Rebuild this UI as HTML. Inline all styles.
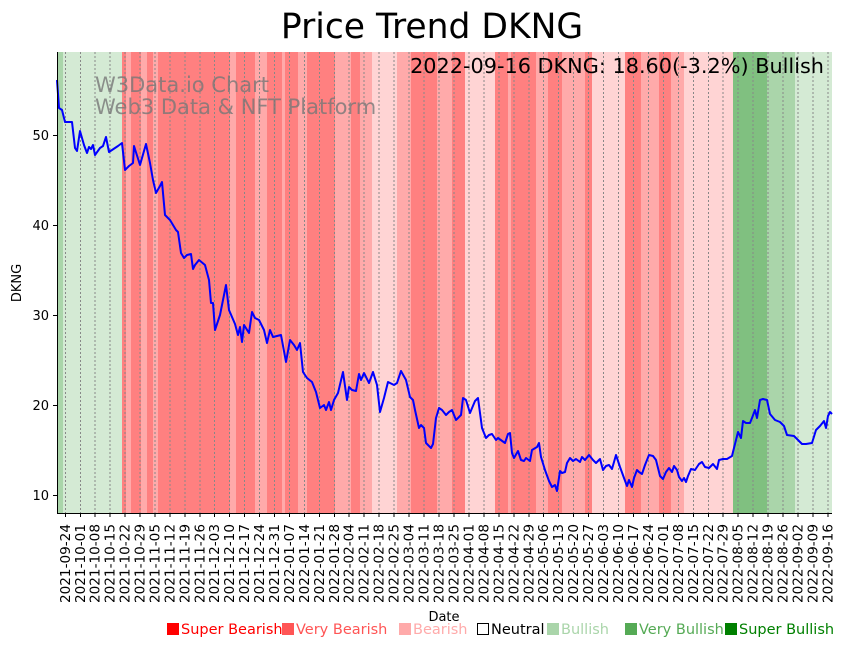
<!DOCTYPE html>
<html><head><meta charset="utf-8"><style>
body{margin:0;background:#fff;}
svg{display:block;font-family:"DejaVu Sans","Liberation Sans",sans-serif;}
</style></head><body>
<svg width="848" height="646" viewBox="0 0 848 646" xmlns="http://www.w3.org/2000/svg">
<rect width="848" height="646" fill="#fff"/>
<text x="432" y="38" font-size="34.5" text-anchor="middle" fill="#000">Price Trend DKNG</text>
<g shape-rendering="crispEdges">
<rect x="57" y="52" width="6" height="461" fill="#aad5aa"/>
<rect x="63" y="52" width="59" height="461" fill="#d4ead4"/>
<rect x="122" y="52" width="4" height="461" fill="#ff8080"/>
<rect x="126" y="52" width="5" height="461" fill="#ffaaaa"/>
<rect x="131" y="52" width="10" height="461" fill="#ff8080"/>
<rect x="141" y="52" width="6" height="461" fill="#ffaaaa"/>
<rect x="147" y="52" width="6" height="461" fill="#ff8080"/>
<rect x="153" y="52" width="5" height="461" fill="#ffaaaa"/>
<rect x="158" y="52" width="72" height="461" fill="#ff8080"/>
<rect x="230" y="52" width="6" height="461" fill="#ffaaaa"/>
<rect x="236" y="52" width="19" height="461" fill="#ff8080"/>
<rect x="255" y="52" width="12" height="461" fill="#ffaaaa"/>
<rect x="267" y="52" width="15" height="461" fill="#ff8080"/>
<rect x="282" y="52" width="3" height="461" fill="#ffaaaa"/>
<rect x="285" y="52" width="13" height="461" fill="#ff8080"/>
<rect x="298" y="52" width="9" height="461" fill="#ffaaaa"/>
<rect x="307" y="52" width="28" height="461" fill="#ff8080"/>
<rect x="335" y="52" width="16" height="461" fill="#ffaaaa"/>
<rect x="351" y="52" width="9" height="461" fill="#ff8080"/>
<rect x="360" y="52" width="12" height="461" fill="#ffaaaa"/>
<rect x="372" y="52" width="25" height="461" fill="#ffd4d4"/>
<rect x="397" y="52" width="14" height="461" fill="#ffaaaa"/>
<rect x="411" y="52" width="26" height="461" fill="#ff8080"/>
<rect x="437" y="52" width="15" height="461" fill="#ffaaaa"/>
<rect x="452" y="52" width="13" height="461" fill="#ff8080"/>
<rect x="465" y="52" width="30" height="461" fill="#ffd4d4"/>
<rect x="495" y="52" width="13" height="461" fill="#ff8080"/>
<rect x="508" y="52" width="3" height="461" fill="#ffaaaa"/>
<rect x="511" y="52" width="25" height="461" fill="#ff8080"/>
<rect x="536" y="52" width="12" height="461" fill="#ffaaaa"/>
<rect x="548" y="52" width="14" height="461" fill="#ff8080"/>
<rect x="562" y="52" width="23" height="461" fill="#ffaaaa"/>
<rect x="585" y="52" width="7" height="461" fill="#ff8080"/>
<rect x="592" y="52" width="33" height="461" fill="#ffd4d4"/>
<rect x="625" y="52" width="16" height="461" fill="#ff8080"/>
<rect x="641" y="52" width="18" height="461" fill="#ffaaaa"/>
<rect x="659" y="52" width="12" height="461" fill="#ff8080"/>
<rect x="671" y="52" width="13" height="461" fill="#ffaaaa"/>
<rect x="684" y="52" width="49" height="461" fill="#ffd4d4"/>
<rect x="733" y="52" width="34" height="461" fill="#80c080"/>
<rect x="767" y="52" width="28" height="461" fill="#aad5aa"/>
<rect x="795" y="52" width="37" height="461" fill="#d4ead4"/>
</g>
<g stroke="#888" stroke-width="1" stroke-dasharray="2,2">
<path d="M65.5 52V513M80.5 52V513M95 52V513M110 52V513M125 52V513M140 52V513M155 52V513M170 52V513M185 52V513M200 52V513M214.5 52V513M229.5 52V513M244.5 52V513M259.5 52V513M274.5 52V513M289.5 52V513M304.5 52V513M319.5 52V513M334.5 52V513M349 52V513M364 52V513M379 52V513M394 52V513M409 52V513M424 52V513M439 52V513M454 52V513M469 52V513M484 52V513M499 52V513M514 52V513M529 52V513M543.5 52V513M558.5 52V513M573.5 52V513M588.5 52V513M603.5 52V513M618.5 52V513M633.5 52V513M648.5 52V513M663.5 52V513M678.5 52V513M693.5 52V513M708.5 52V513M723 52V513M738 52V513M753 52V513M768 52V513M783 52V513M798 52V513M813 52V513M828 52V513"/>
</g>
<text x="95" y="92" font-size="21" fill="#777" fill-opacity="0.8">W3Data.io Chart</text>
<text x="95" y="114" font-size="21" fill="#777" fill-opacity="0.8">Web3 Data &amp; NFT Platform</text>
<text x="824" y="73" font-size="20.8" text-anchor="end" fill="#000">2022-09-16 DKNG: 18.60(-3.2%) Bullish</text>
<polyline fill="none" stroke="#0000ff" stroke-width="2" stroke-linejoin="round" points="57,80 59,108 62,110 65,122 72,122 75,148 77,151 80,131 84,145 87,153 89,147 91,149 93,145 95,155 100,148 103,146 106,137 109,152 112,150 118,146 122,143 125,170 129,166 133,163 134,146 140,165 146,144 150,163 153,180 156,193 160,186 162,182 165,215 170,220 176,230 178,232 181,253 184,258 187,255 191,254 193,269 195,265 199,260 205,265 209,280 211,303 213,303 215,330 220,315 226,285 229,310 235,324 238,335 240,327 242,342 244,325 249,333 252,312 255,318 259,320 264,330 267,343 270,330 273,337 281,335 286,362 290,340 294,345 297,350 300,343 303,372 307,378 312,382 316,392 320,408 324,405 326,410 329,402 331,410 334,400 338,393 343,372 347,400 349,387 352,390 356,391 359,374 361,380 364,373 369,383 373,372 377,385 380,412 384,398 388,382 394,385 397,383 401,371 406,380 410,397 413,400 415,410 419,428 421,425 424,428 426,443 431,448 433,444 436,418 439,408 442,410 446,415 449,412 452,410 456,420 461,415 463,398 466,400 470,413 475,401 478,398 482,428 486,438 489,435 492,434 496,440 498,438 505,443 508,434 510,433 512,453 514,458 518,451 521,460 524,461 526,458 530,461 532,450 537,447 539,443 541,457 545,470 549,481 552,487 555,485 557,491 560,471 562,473 565,472 567,463 570,458 573,461 576,459 580,462 582,457 585,460 589,455 593,460 596,463 600,459 603,470 606,466 609,465 612,469 616,455 620,467 624,478 627,486 629,480 632,487 634,478 637,470 639,472 642,474 645,465 649,455 653,456 656,460 660,476 663,479 666,472 669,468 672,472 674,466 677,470 679,477 682,481 684,478 686,482 688,476 691,469 695,470 699,464 702,462 705,467 709,468 713,464 717,469 719,460 723,459 727,459 732,456 735,444 738,432 741,438 743,421 746,423 750,423 752,418 755,410 757,418 760,400 763,399 767,400 770,414 775,420 780,422 784,426 787,435 794,436 798,440 802,444 806,444 812,443 816,430 820,426 824,421 826,428 828,416 830,412 832,414"/>
<path d="M57.5 52V513.5H832" fill="none" stroke="#000" stroke-width="1"/>
<g stroke="#000" stroke-width="1">
<path d="M53 495.5H57M53 405.5H57M53 315.5H57M53 225.5H57M53 135.5H57"/>
<path d="M65.5 513V517M80.5 513V517M95 513V517M110 513V517M125 513V517M140 513V517M155 513V517M170 513V517M185 513V517M200 513V517M214.5 513V517M229.5 513V517M244.5 513V517M259.5 513V517M274.5 513V517M289.5 513V517M304.5 513V517M319.5 513V517M334.5 513V517M349 513V517M364 513V517M379 513V517M394 513V517M409 513V517M424 513V517M439 513V517M454 513V517M469 513V517M484 513V517M499 513V517M514 513V517M529 513V517M543.5 513V517M558.5 513V517M573.5 513V517M588.5 513V517M603.5 513V517M618.5 513V517M633.5 513V517M648.5 513V517M663.5 513V517M678.5 513V517M693.5 513V517M708.5 513V517M723 513V517M738 513V517M753 513V517M768 513V517M783 513V517M798 513V517M813 513V517M828 513V517"/>
</g>
<g font-size="13" text-anchor="end" fill="#000">
<text x="49" y="500">10</text><text x="49" y="410">20</text><text x="49" y="320">30</text><text x="49" y="230">40</text><text x="49" y="140">50</text>
</g>
<text transform="translate(21,283) rotate(-90)" font-size="13" text-anchor="middle">DKNG</text>
<text x="444" y="621" font-size="13" text-anchor="middle">Date</text>
<g font-size="13.6" text-anchor="end" fill="#000">
<text transform="translate(70,524) rotate(-90)">2021-09-24</text>
<text transform="translate(85,524) rotate(-90)">2021-10-01</text>
<text transform="translate(99.5,524) rotate(-90)">2021-10-08</text>
<text transform="translate(114.5,524) rotate(-90)">2021-10-15</text>
<text transform="translate(129.5,524) rotate(-90)">2021-10-22</text>
<text transform="translate(144.5,524) rotate(-90)">2021-10-29</text>
<text transform="translate(159.5,524) rotate(-90)">2021-11-05</text>
<text transform="translate(174.5,524) rotate(-90)">2021-11-12</text>
<text transform="translate(189.5,524) rotate(-90)">2021-11-19</text>
<text transform="translate(204.5,524) rotate(-90)">2021-11-26</text>
<text transform="translate(219,524) rotate(-90)">2021-12-03</text>
<text transform="translate(234,524) rotate(-90)">2021-12-10</text>
<text transform="translate(249,524) rotate(-90)">2021-12-17</text>
<text transform="translate(264,524) rotate(-90)">2021-12-24</text>
<text transform="translate(279,524) rotate(-90)">2021-12-31</text>
<text transform="translate(294,524) rotate(-90)">2022-01-07</text>
<text transform="translate(309,524) rotate(-90)">2022-01-14</text>
<text transform="translate(324,524) rotate(-90)">2022-01-21</text>
<text transform="translate(339,524) rotate(-90)">2022-01-28</text>
<text transform="translate(353.5,524) rotate(-90)">2022-02-04</text>
<text transform="translate(368.5,524) rotate(-90)">2022-02-11</text>
<text transform="translate(383.5,524) rotate(-90)">2022-02-18</text>
<text transform="translate(398.5,524) rotate(-90)">2022-02-25</text>
<text transform="translate(413.5,524) rotate(-90)">2022-03-04</text>
<text transform="translate(428.5,524) rotate(-90)">2022-03-11</text>
<text transform="translate(443.5,524) rotate(-90)">2022-03-18</text>
<text transform="translate(458.5,524) rotate(-90)">2022-03-25</text>
<text transform="translate(473.5,524) rotate(-90)">2022-04-01</text>
<text transform="translate(488.5,524) rotate(-90)">2022-04-08</text>
<text transform="translate(503.5,524) rotate(-90)">2022-04-15</text>
<text transform="translate(518.5,524) rotate(-90)">2022-04-22</text>
<text transform="translate(533.5,524) rotate(-90)">2022-04-29</text>
<text transform="translate(548,524) rotate(-90)">2022-05-06</text>
<text transform="translate(563,524) rotate(-90)">2022-05-13</text>
<text transform="translate(578,524) rotate(-90)">2022-05-20</text>
<text transform="translate(593,524) rotate(-90)">2022-05-27</text>
<text transform="translate(608,524) rotate(-90)">2022-06-03</text>
<text transform="translate(623,524) rotate(-90)">2022-06-10</text>
<text transform="translate(638,524) rotate(-90)">2022-06-17</text>
<text transform="translate(653,524) rotate(-90)">2022-06-24</text>
<text transform="translate(668,524) rotate(-90)">2022-07-01</text>
<text transform="translate(683,524) rotate(-90)">2022-07-08</text>
<text transform="translate(698,524) rotate(-90)">2022-07-15</text>
<text transform="translate(713,524) rotate(-90)">2022-07-22</text>
<text transform="translate(727.5,524) rotate(-90)">2022-07-29</text>
<text transform="translate(742.5,524) rotate(-90)">2022-08-05</text>
<text transform="translate(757.5,524) rotate(-90)">2022-08-12</text>
<text transform="translate(772.5,524) rotate(-90)">2022-08-19</text>
<text transform="translate(787.5,524) rotate(-90)">2022-08-26</text>
<text transform="translate(802.5,524) rotate(-90)">2022-09-02</text>
<text transform="translate(817.5,524) rotate(-90)">2022-09-09</text>
<text transform="translate(832.5,524) rotate(-90)">2022-09-16</text>
</g>
<g font-size="14.5">
<rect x="167" y="623" width="12" height="12" fill="#ff0000"/><text x="181" y="634" fill="#ff0000">Super Bearish</text>
<rect x="282" y="623" width="12" height="12" fill="#ff5555"/><text x="296" y="634" fill="#ff5555">Very Bearish</text>
<rect x="399" y="623" width="12" height="12" fill="#ffaaaa"/><text x="413" y="634" fill="#ffaaaa">Bearish</text>
<rect x="477.5" y="623.5" width="11" height="11" fill="none" stroke="#000"/><text x="491" y="634" fill="#000">Neutral</text>
<rect x="547" y="623" width="12" height="12" fill="#aad5aa"/><text x="561" y="634" fill="#aad5aa">Bullish</text>
<rect x="625" y="623" width="12" height="12" fill="#55aa55"/><text x="639" y="634" fill="#55aa55">Very Bullish</text>
<rect x="725" y="623" width="12" height="12" fill="#008000"/><text x="739" y="634" fill="#008000">Super Bullish</text>
</g>
</svg>
</body></html>
